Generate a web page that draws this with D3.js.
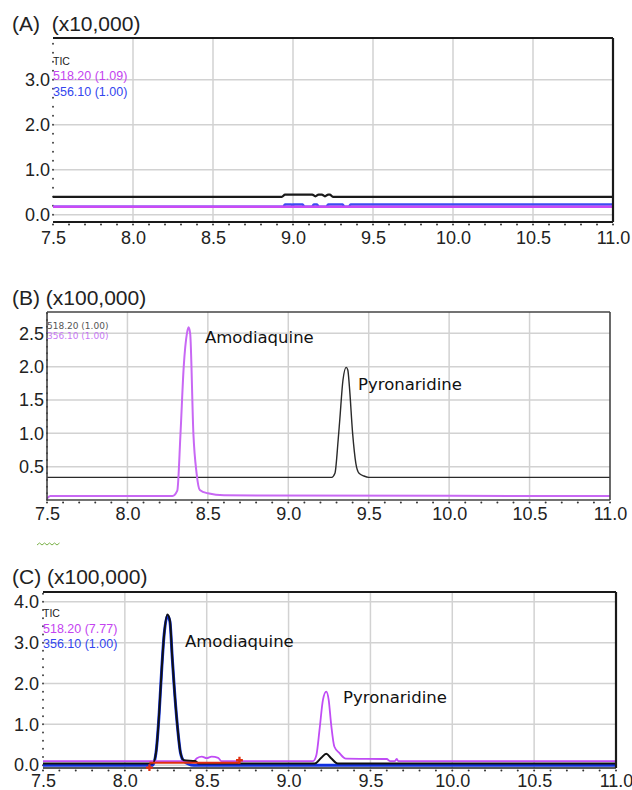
<!DOCTYPE html>
<html>
<head>
<meta charset="utf-8">
<script src="https://cdn.jsdelivr.net/npm/d3@7"></script>
<style>
  body { margin: 0; background: #fff; }
  svg { display: block; }
</style>
</head>
<body>
<svg id="chart" width="632" height="790"></svg>
<script>
// Retention time axis (min)
const xTicks = [7.5, 8.0, 8.5, 9.0, 9.5, 10.0, 10.5, 11.0];

// Panel A (x10,000) - blank
const yTicksA = [0, 1, 2, 3];
const ticA = [[7.5, 0.40], [8.93, 0.40], [8.95, 0.45], [9.12, 0.45], [9.14, 0.41], [9.16, 0.45],
  [9.18, 0.45], [9.20, 0.41], [9.22, 0.45], [9.23, 0.45], [9.25, 0.40], [11.0, 0.40]];
const mz518A = [[7.5, 0.18], [11.0, 0.18]];
const mz356A = [[7.5, 0.18], [8.94, 0.18], [8.95, 0.23], [8.99, 0.23], [9.0, 0.18], [9.0, 0.23],
  [9.06, 0.23], [9.07, 0.18], [9.12, 0.18], [9.13, 0.23], [9.15, 0.23], [9.16, 0.18],
  [9.21, 0.18], [9.22, 0.23], [9.31, 0.23], [9.32, 0.18], [9.35, 0.18], [9.36, 0.23], [11.0, 0.23]];

// Panel B (x100,000) - standards
const yTicksB = [0.5, 1.0, 1.5, 2.0, 2.5];
const mz518B = [[7.5, 0.34], [9.27, 0.34], [9.29, 0.40], [9.31, 0.9], [9.32, 1.2], [9.34, 1.8],
  [9.36, 1.99], [9.37, 1.95], [9.38, 1.7], [9.40, 1.0], [9.42, 0.55], [9.44, 0.40], [9.47, 0.36],
  [9.50, 0.34], [11.0, 0.34]];
const mz356B = [[7.5, 0.02], [7.52, 0.06], [8.28, 0.06], [8.31, 0.14], [8.33, 1.0], [8.35, 2.0],
  [8.37, 2.5], [8.38, 2.59], [8.39, 2.5], [8.41, 1.0], [8.43, 0.4], [8.45, 0.15], [8.50, 0.10],
  [8.60, 0.07], [11.0, 0.06]];

// Panel C (x100,000) - sample
const yTicksC = [0, 1, 2, 3, 4];
const ticC = [[7.5, 0.04], [8.17, 0.04], [8.19, 0.3], [8.21, 1.3], [8.22, 2.0], [8.24, 3.2],
  [8.26, 3.69], [8.275, 3.55], [8.29, 2.6], [8.30, 2.0], [8.32, 1.0], [8.34, 0.3], [8.36, 0.12],
  [8.43, 0.10], [8.45, 0.04], [9.16, 0.04], [9.20, 0.18], [9.23, 0.28], [9.26, 0.17],
  [9.30, 0.04], [11.0, 0.04]];
const mz518C = [[7.5, 0.10], [8.42, 0.10], [8.44, 0.17], [8.47, 0.21], [8.50, 0.17], [8.53, 0.21],
  [8.57, 0.18], [8.59, 0.10], [9.15, 0.10], [9.17, 0.25], [9.19, 0.9], [9.21, 1.6], [9.23, 1.8],
  [9.245, 1.6], [9.26, 1.0], [9.28, 0.45], [9.31, 0.30], [9.35, 0.16], [9.60, 0.15], [9.62, 0.10],
  [9.65, 0.10], [9.66, 0.15], [9.67, 0.10], [11.0, 0.10]];
const mz356C = [[7.5, 0.0], [8.17, 0.0], [8.19, 0.3], [8.21, 1.3], [8.22, 2.0], [8.24, 3.2],
  [8.26, 3.66], [8.275, 3.52], [8.29, 2.6], [8.30, 2.0], [8.32, 1.0], [8.34, 0.3], [8.36, 0.1],
  [8.42, 0.0], [11.0, 0.0]];
const integrationC = [[8.15, 0.06], [8.70, 0.06]];
const integrationMarks = [[8.15, -0.06], [8.70, 0.12]];

const svg = d3.select("#chart");
const labelFont = "'Liberation Sans', Arial, Helvetica, sans-serif";
const noteFont = "'DejaVu Sans', Verdana, sans-serif";

function drawPanel(p) {
  const x = d3.scaleLinear().domain([7.5, 11.0]).range([p.left, p.right]);
  const y = d3.scaleLinear().domain(p.yDomain).range([p.bottom, p.top]);
  const g = svg.append("g");

  // grid
  g.append("g").selectAll("line").data(xTicks.slice(1, -1)).join("line")
    .attr("x1", d => x(d)).attr("x2", d => x(d))
    .attr("y1", p.top).attr("y2", p.bottom)
    .attr("stroke", "#d2d2d2").attr("stroke-width", 1.5);
  g.append("g").selectAll("line").data(p.yTicks).join("line")
    .attr("x1", p.left).attr("x2", p.right)
    .attr("y1", d => y(d)).attr("y2", d => y(d))
    .attr("stroke", "#d2d2d2").attr("stroke-width", 1.5);

  // minor ticks as dots
  const xMinor = d3.range(75, 111).map(d => d / 10);
  g.append("g").selectAll("circle").data(xMinor).join("circle")
    .attr("cx", d => x(d)).attr("cy", p.bottom + 2.5).attr("r", 1)
    .attr("fill", "#333");
  const yMinor = d3.range(Math.ceil(p.yDomain[0] / p.yMinorStep), Math.floor(p.yDomain[1] / p.yMinorStep) + 1)
    .map(d => d * p.yMinorStep);
  g.append("g").selectAll("circle").data(yMinor).join("circle")
    .attr("cx", p.left).attr("cy", d => y(d)).attr("r", 1)
    .attr("fill", "#444");

  // axes labels
  const xAxis = d3.axisBottom(x).tickValues(xTicks).tickSize(0).tickPadding(p.xPad)
    .tickFormat(d3.format(".1f"));
  const yAxis = d3.axisLeft(y).tickValues(p.yTicks).tickSize(0).tickPadding(p.yPad)
    .tickFormat(d3.format(".1f"));
  const xa = g.append("g").attr("transform", `translate(0,${p.bottom})`).call(xAxis);
  const ya = g.append("g").attr("transform", `translate(${p.left},0)`).call(yAxis);
  [xa, ya].forEach(a => {
    a.select(".domain").remove();
    a.selectAll("text").attr("font-family", labelFont).attr("font-size", 18).attr("fill", "#222");
  });

  // series
  const line = d3.line().x(d => x(d[0])).y(d => y(d[1])).curve(d3.curveMonotoneX);
  p.series.forEach(s => {
    g.append("path").datum(s.data).attr("d", line)
      .attr("fill", "none").attr("stroke", s.color).attr("stroke-width", s.width)
      .attr("stroke-linejoin", "round");
  });

  // frame
  p.frame.forEach(f => {
    const [x1, y1, x2, y2] = {
      top: [p.left, p.top, p.right, p.top],
      right: [p.right, p.top, p.right, p.bottom],
      bottom: [p.left, p.bottom, p.right, p.bottom],
      left: [p.left, p.top, p.left, p.bottom]
    }[f.side];
    g.append("line").attr("x1", x1).attr("y1", y1).attr("x2", x2).attr("y2", y2)
      .attr("stroke", f.color).attr("stroke-width", f.width);
  });

  // title
  svg.append("text").attr("x", p.titleX).attr("y", p.titleY)
    .attr("font-family", labelFont).attr("font-size", 21).attr("fill", "#222")
    .style("white-space", "pre").text(p.title);

  // legend
  p.legend.forEach(l => {
    svg.append("text").attr("x", p.left).attr("y", l.y)
      .attr("font-family", l.font || labelFont).attr("font-size", l.size)
      .attr("fill", l.color).text(l.text);
  });

  // compound names
  p.notes.forEach(n => {
    svg.append("text").attr("x", n.x).attr("y", n.y)
      .attr("font-family", noteFont).attr("font-size", 16.5).attr("fill", "#111").text(n.text);
  });

  return { x, y, g };
}

// Panel A
drawPanel({
  left: 53, right: 613, top: 38, bottom: 222, yDomain: [-0.16, 3.93], yTicks: yTicksA, yMinorStep: 0.2,
  xPad: 9, yPad: 3,
  series: [
    { data: mz356A, color: "#3c4cf2", width: 2.6 },
    { data: mz518A, color: "#c94af5", width: 2.6 },
    { data: ticA, color: "#1a1a1a", width: 2.2 }
  ],
  frame: [
    { side: "top", color: "#1a1a1a", width: 2.2 },
    { side: "right", color: "#1a1a1a", width: 2.2 },
    { side: "bottom", color: "#1a1a1a", width: 2.2 }
  ],
  title: "(A)  (x10,000)", titleX: 12, titleY: 31,
  legend: [
    { text: "TIC", y: 65, size: 10.5, color: "#222" },
    { text: "518.20 (1.09)", y: 80, size: 12.5, color: "#c443f0" },
    { text: "356.10 (1.00)", y: 96, size: 12.5, color: "#3346ee" }
  ],
  notes: []
});

// Panel B
drawPanel({
  left: 47, right: 610, top: 312, bottom: 500, yDomain: [0, 2.82], yTicks: yTicksB, yMinorStep: 0.1,
  xPad: 7, yPad: 3,
  series: [
    { data: mz518B, color: "#2a2a2a", width: 1.4 },
    { data: mz356B, color: "#c868f4", width: 2 }
  ],
  frame: [
    { side: "top", color: "#444", width: 1.6 },
    { side: "right", color: "#444", width: 1.6 },
    { side: "bottom", color: "#444", width: 1.6 },
    { side: "left", color: "#444", width: 1.6 }
  ],
  title: "(B) (x100,000)", titleX: 12, titleY: 305,
  legend: [
    { text: "518.20 (1.00)", y: 329, size: 9, color: "#555", font: noteFont },
    { text: "356.10 (1.00)", y: 339, size: 9, color: "#c878f5", font: noteFont }
  ],
  notes: [
    { text: "Amodiaquine", x: 205, y: 343 },
    { text: "Pyronaridine", x: 358, y: 390 }
  ]
});

// stray mark under panel B
svg.append("path")
  .attr("d", "M37,545 l2.5,-2 l2.5,2 l2.5,-2 l2.5,2 l2.5,-2 l2.5,2 l2.5,-2 l2.5,2 l2.5,-2")
  .attr("fill", "none").attr("stroke", "#7bb24a").attr("stroke-width", 1);

// Panel C
const pc = drawPanel({
  left: 43, right: 616, top: 592, bottom: 768, yDomain: [-0.07, 4.24], yTicks: yTicksC, yMinorStep: 0.2,
  xPad: 6, yPad: 4,
  series: [
    { data: mz356C, color: "#1030e0", width: 3 },
    { data: mz518C, color: "#c04cf5", width: 1.8 },
    { data: ticC, color: "#111", width: 2 }
  ],
  frame: [
    { side: "top", color: "#1a1a1a", width: 2.2 },
    { side: "right", color: "#1a1a1a", width: 2.2 },
    { side: "bottom", color: "#222", width: 1.5 }
  ],
  title: "(C) (x100,000)", titleX: 12, titleY: 584,
  legend: [
    { text: "TIC", y: 617, size: 10.5, color: "#222" },
    { text: "518.20 (7.77)", y: 633, size: 12.5, color: "#c443f0" },
    { text: "356.10 (1.00)", y: 648, size: 12.5, color: "#3346ee" }
  ],
  notes: [
    { text: "Amodiaquine", x: 185, y: 647 },
    { text: "Pyronaridine", x: 343, y: 703 }
  ]
});

// integration baseline in panel C
pc.g.append("path").datum(integrationC)
  .attr("d", d3.line().x(d => pc.x(d[0])).y(d => pc.y(d[1])))
  .attr("stroke", "#e03010").attr("stroke-width", 2).attr("fill", "none");
pc.g.append("g").selectAll("path").data(integrationMarks).join("path")
  .attr("transform", d => `translate(${pc.x(d[0])},${pc.y(d[1])})`)
  .attr("d", d3.symbol(d3.symbolCross, 26))
  .attr("fill", "#e03010");
</script>
</body>
</html>
